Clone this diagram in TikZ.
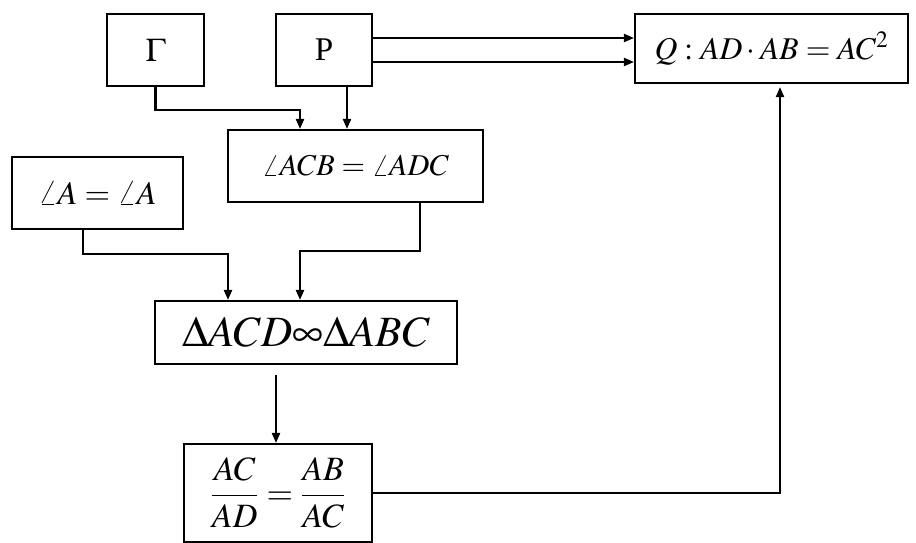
\documentclass[tikz,border=0pt]{standalone}
\usepackage{amsmath}
\usepackage{graphicx}
\usepackage{mathptmx}
\usepackage{fontspec}
\setmainfont{Liberation Serif}
\usetikzlibrary{arrows.meta}
\tikzset{
  box/.style={draw, line width=2.1pt, inner sep=0pt, font=\fontsize{24}{28}\selectfont},
  arr/.style={line width=2.1pt, -{Triangle[length=10pt,width=8pt]}}
}
\begin{document}
\begin{tikzpicture}[x=1pt, y=-1pt]
  \useasboundingbox (0,0) rectangle (916,543);
  \node (gamma) [box, minimum width=97pt, minimum height=72pt] at (155.5,50) {\scalebox{1.38}{$\Gamma$}};
  \node (prop) [box, minimum width=96pt, minimum height=72pt] at (324,50) {\scalebox{1.38}{P}};
  \node (goal) [box, minimum width=273pt, minimum height=69pt] at (771.5,48.5) {\scalebox{1.32}{$Q: AD\cdot AB = AC^{2}$}};
  \node (acb) [box, minimum width=255pt, minimum height=72pt] at (355.5,166) {\scalebox{1.26}{$\angle ACB = \angle ADC$}};
  \node (anga) [box, minimum width=171pt, minimum height=72pt] at (97.5,193) {\scalebox{1.37}{$\angle A = \angle A$}};
  \node (sim) [box, minimum width=302pt, minimum height=63pt] at (306,332.5) {\scalebox{1.8}{$\Delta ACD\infty\Delta ABC$}};
  \node (ratio) [box, minimum width=188pt, minimum height=98pt] at (278,493) {\scalebox{1.42}{$\dfrac{AC}{AD}=\dfrac{AB}{AC}$}};

  \draw [arr] (gamma.south) -- ++(0,23) -| ([xshift=-55.5pt]acb.north);
  \draw [arr] ([xshift=23pt]prop.south) -- ([xshift=23pt]prop.south |- acb.north);
  \draw [arr] ([yshift=12pt]prop.east) -- ([yshift=12pt]prop.east -| goal.west);
  \draw [arr] ([yshift=-12pt]prop.east) -- ([yshift=-12pt]prop.east -| goal.west);

  \draw [arr] ([xshift=-14.5pt]anga.south) -- ++(0,24) -| ([xshift=-78pt]sim.north);
  \draw [arr] ([xshift=64.5pt]acb.south) -- ++(0,48) -| ([xshift=-6pt]sim.north);

  \draw [arr] ([xshift=-30pt,yshift=-10pt]sim.south) -- ([xshift=-30pt]sim.south |- ratio.north);
  \draw [arr, shorten >=3pt] (ratio.east) -| ([xshift=8.5pt]goal.south);
\end{tikzpicture}
\end{document}
